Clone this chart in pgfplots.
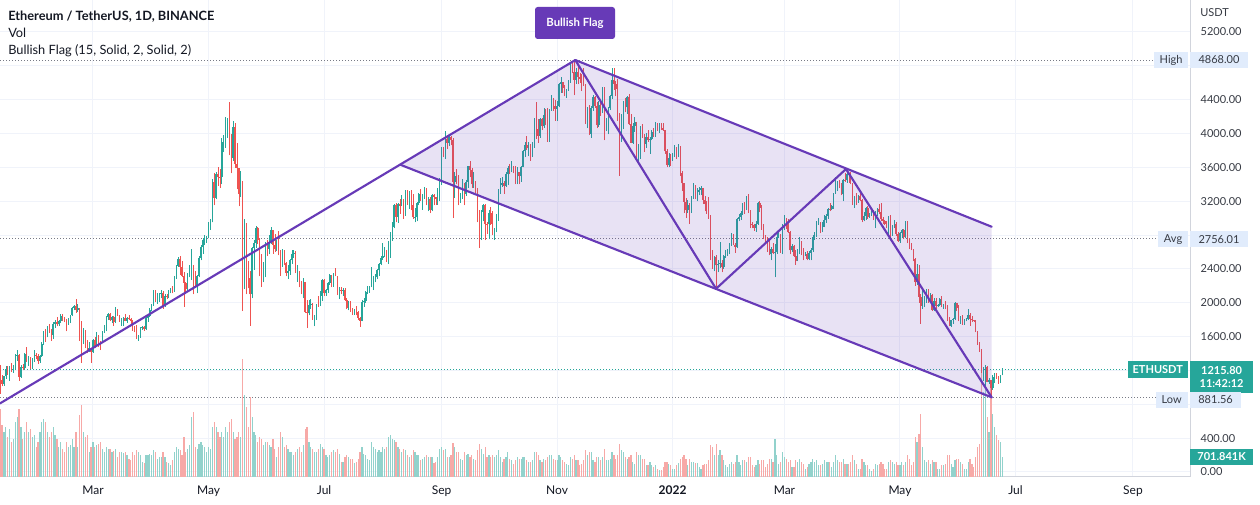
\documentclass[border=0pt]{standalone}
\usepackage{pgfplots}
\pgfplotsset{compat=1.18}
\usepackage{pgfplotstable}
\usepackage{fontspec}
\setmainfont{Lato}
\definecolor{up}{RGB}{38,166,154}
\definecolor{dn}{RGB}{239,83,80}
\definecolor{vup}{RGB}{146,210,204}
\definecolor{vdn}{RGB}{247,169,167}
\definecolor{flag}{RGB}{103,58,183}
\definecolor{lblue}{RGB}{225,236,252}
\definecolor{txt}{RGB}{19,23,34}
\definecolor{gridc}{RGB}{240,243,250}
\definecolor{axc}{RGB}{209,212,220}
\definecolor{dotc}{RGB}{120,123,134}
\pgfplotstableread{
d o h l c v
10 1262 1264 922 1090 68
11 1090 1150 1010 1044 52
12 1044 1135 1020 1130 45
13 1130 1250 1100 1218 50
14 1218 1250 1150 1171 40
15 1171 1255 1080 1233 48
16 1233 1290 1180 1228 35
17 1228 1260 1170 1257 38
18 1257 1390 1220 1377 55
19 1377 1440 1310 1383 60
20 1383 1390 1080 1121 68
21 1121 1260 1110 1236 50
22 1236 1270 1200 1231 38
23 1231 1410 1220 1390 45
24 1390 1476 1300 1324 55
25 1324 1370 1250 1357 45
26 1357 1360 1220 1253 48
27 1253 1348 1220 1332 40
28 1332 1440 1300 1382 42
29 1382 1400 1330 1376 30
30 1376 1390 1280 1314 35
31 1314 1380 1290 1369 45
32 1369 1540 1360 1515 55
33 1515 1670 1500 1660 58
34 1660 1690 1540 1594 55
35 1594 1730 1590 1718 45
36 1718 1750 1640 1677 40
37 1677 1690 1550 1614 45
38 1614 1770 1570 1746 50
39 1746 1790 1700 1768 42
40 1768 1830 1720 1744 38
41 1744 1790 1720 1783 30
42 1783 1870 1760 1843 35
43 1843 1870 1780 1814 28
44 1814 1830 1770 1805 25
45 1805 1810 1660 1779 35
46 1779 1820 1740 1781 30
47 1781 1860 1760 1849 32
48 1849 1950 1840 1938 38
49 1938 1970 1910 1960 30
50 1960 2042 1880 1919 45
51 1919 1990 1890 1935 30
52 1935 1939 1550 1781 62
53 1781 1781 1290 1570 72
54 1570 1705 1510 1626 45
55 1626 1680 1460 1475 40
56 1475 1560 1400 1446 42
57 1446 1530 1420 1459 25
58 1459 1470 1290 1416 30
59 1416 1570 1410 1564 35
60 1564 1600 1460 1492 30
61 1492 1650 1480 1575 32
62 1575 1620 1480 1541 33
63 1541 1550 1440 1533 35
64 1533 1670 1530 1654 28
65 1654 1735 1640 1723 25
66 1723 1840 1660 1835 30
67 1835 1875 1790 1868 28
68 1868 1880 1780 1799 28
69 1799 1840 1760 1826 25
70 1826 1840 1730 1772 26
71 1772 1945 1760 1924 28
72 1924 1930 1840 1854 20
73 1854 1860 1775 1791 25
74 1791 1820 1730 1806 25
75 1806 1830 1730 1823 24
76 1823 1870 1780 1782 25
77 1782 1830 1760 1814 22
78 1814 1850 1800 1812 18
79 1812 1820 1750 1783 17
80 1783 1800 1670 1680 25
81 1680 1720 1650 1669 22
82 1669 1740 1570 1582 27
83 1582 1620 1550 1588 25
84 1588 1710 1585 1700 22
85 1700 1730 1680 1715 15
86 1715 1720 1670 1689 14
87 1689 1840 1680 1817 22
88 1817 1860 1770 1846 22
89 1846 1940 1830 1919 23
90 1919 1990 1900 1977 22
91 1977 2150 1960 2143 27
92 2143 2145 2010 2027 25
93 2027 2110 1990 2093 18
94 2093 2120 2010 2108 20
95 2108 2150 2050 2116 20
96 2116 2135 1930 1966 25
97 1966 2100 1950 2084 20
98 2084 2100 2040 2070 15
99 2070 2150 2060 2136 14
100 2136 2170 2110 2157 12
101 2157 2200 2110 2139 17
102 2139 2320 2130 2299 25
103 2299 2450 2280 2432 30
104 2432 2545 2420 2514 28
105 2514 2550 2330 2422 27
106 2422 2490 2300 2316 22
107 2316 2360 1950 2235 40
108 2235 2250 2100 2162 25
109 2162 2350 2140 2332 28
110 2332 2450 2300 2357 32
111 2357 2640 2270 2398 60
112 2398 2440 2100 2364 65
113 2364 2370 2180 2211 30
114 2211 2330 2110 2316 28
115 2316 2550 2300 2534 33
116 2534 2680 2500 2662 35
117 2662 2760 2580 2746 32
118 2746 2800 2680 2756 30
119 2756 2790 2710 2773 25
120 2773 2950 2760 2945 30
121 2945 2990 2860 2950 28
122 2950 3460 2950 3431 50
123 3431 3530 3150 3240 55
124 3240 3540 3220 3524 50
125 3524 3600 3380 3490 45
126 3490 3580 3360 3484 40
127 3484 3950 3400 3902 45
128 3902 3980 3780 3928 40
129 3928 4200 3830 3952 50
130 3952 4180 3950 4168 45
131 4168 4372 3740 3785 55
132 3785 3990 3530 3715 58
133 3715 4147 3680 4079 45
134 4079 4125 3595 3640 38
135 3640 3890 3340 3587 40
136 3587 3590 3140 3282 45
137 3282 3560 3250 3377 40
138 3377 3440 1900 2439 118
139 2439 2990 2160 2773 82
140 2773 2940 2100 2430 70
141 2430 2490 2170 2295 50
142 2295 2380 1730 2100 80
143 2100 2660 2050 2643 60
144 2643 2740 2390 2706 45
145 2706 2910 2650 2888 42
146 2888 2890 2690 2736 35
147 2736 2760 2310 2419 40
148 2419 2570 2185 2279 38
149 2279 2480 2240 2385 32
150 2385 2715 2300 2707 35
151 2707 2740 2550 2633 35
152 2633 2800 2570 2707 32
153 2707 2891 2690 2855 30
154 2855 2860 2580 2688 38
155 2688 2810 2600 2630 28
156 2630 2740 2610 2715 20
157 2715 2845 2560 2590 30
158 2590 2620 2320 2517 45
159 2517 2640 2420 2609 40
160 2609 2620 2450 2472 30
161 2472 2480 2310 2353 32
162 2353 2450 2280 2372 28
163 2372 2520 2330 2508 25
164 2508 2620 2460 2576 25
165 2576 2620 2530 2589 22
166 2589 2610 2350 2367 25
167 2367 2440 2250 2370 28
168 2370 2380 2180 2232 30
169 2232 2260 2100 2178 25
170 2178 2290 2050 2245 32
171 2245 2250 1880 1889 48
172 1889 2030 1700 1875 50
173 1875 2030 1850 1972 35
174 1972 2040 1930 1990 30
175 1990 2000 1800 1811 28
176 1811 1860 1720 1829 25
177 1829 1990 1800 1980 25
178 1980 2080 1950 1970 28
179 1970 2140 1960 2084 33
180 2084 2280 2020 2274 30
181 2274 2280 2080 2110 28
182 2110 2160 2080 2151 22
183 2151 2240 2120 2228 20
184 2228 2340 2210 2322 22
185 2322 2330 2180 2200 25
186 2200 2350 2190 2323 27
187 2323 2410 2310 2316 25
188 2316 2320 2090 2117 28
189 2117 2190 2040 2149 23
190 2149 2190 2100 2139 15
191 2139 2170 2080 2156 15
192 2156 2170 2020 2036 20
193 2036 2050 1920 1941 22
194 1941 2020 1910 1996 20
195 1996 2020 1890 1917 18
196 1917 1940 1860 1877 18
197 1877 1920 1860 1899 14
198 1899 1960 1850 1895 15
199 1895 1900 1800 1820 18
200 1820 1830 1718 1787 25
201 1787 2030 1780 2004 30
202 2004 2050 1950 2025 23
203 2025 2140 2000 2124 22
204 2124 2200 2100 2188 18
205 2188 2200 2120 2191 17
206 2191 2420 2180 2231 35
207 2231 2320 2150 2298 30
208 2298 2340 2240 2299 28
209 2299 2400 2280 2383 25
210 2383 2470 2320 2461 27
211 2461 2550 2440 2532 25
212 2532 2700 2510 2556 30
213 2556 2660 2540 2608 28
214 2608 2620 2480 2506 30
215 2506 2730 2460 2725 40
216 2725 2840 2530 2827 42
217 2827 2950 2730 2890 38
218 2890 3170 2880 3157 37
219 3157 3180 2950 3013 35
220 3013 3180 2940 3163 30
221 3163 3230 3050 3142 28
222 3142 3270 3140 3164 25
223 3164 3230 2990 3049 28
224 3049 3330 3030 3322 27
225 3322 3332 3160 3266 22
226 3266 3320 3110 3310 20
227 3310 3330 3090 3150 22
228 3150 3290 2990 3011 27
229 3011 3120 2950 3018 25
230 3018 3190 2960 3182 22
231 3182 3300 3150 3286 22
232 3286 3340 3200 3226 17
233 3226 3280 3100 3242 18
234 3242 3370 3230 3324 20
235 3324 3360 3150 3173 22
236 3173 3250 3080 3225 20
237 3225 3250 3060 3101 20
238 3101 3280 3080 3271 20
239 3271 3290 3150 3244 14
240 3244 3250 3160 3223 15
241 3223 3350 3160 3225 20
242 3225 3470 3200 3433 28
243 3433 3840 3390 3834 30
244 3834 3840 3720 3788 27
245 3788 4027 3700 3939 28
246 3939 3970 3820 3886 20
247 3886 3980 3850 3953 20
248 3953 3970 3860 3927 22
249 3927 3950 3000 3430 34
250 3430 3550 3240 3498 30
251 3498 3580 3400 3426 25
252 3426 3510 3150 3211 25
253 3211 3300 3180 3267 18
254 3267 3460 3230 3407 17
255 3407 3420 3150 3286 25
256 3286 3450 3260 3428 22
257 3428 3620 3360 3613 23
258 3613 3680 3480 3569 20
259 3569 3590 3360 3398 22
260 3398 3540 3360 3433 18
261 3433 3440 3300 3332 17
262 3332 3350 2950 2977 27
263 2977 3100 2650 2749 33
264 2749 3100 2740 3077 28
265 3077 3170 2960 3155 23
266 3155 3170 2740 2931 30
267 2931 2950 2810 2926 20
268 2926 3100 2750 3063 22
269 3063 3130 2920 2934 20
270 2934 3080 2800 2807 22
271 2807 2880 2740 2850 20
272 2850 3050 2830 3001 22
273 3001 3340 2970 3307 27
274 3307 3470 3290 3390 20
275 3390 3490 3370 3418 15
276 3418 3440 3290 3382 18
277 3382 3550 3370 3517 20
278 3517 3620 3390 3587 25
279 3587 3640 3520 3561 18
280 3561 3670 3540 3575 17
281 3575 3620 3530 3545 13
282 3545 3610 3400 3416 17
283 3416 3600 3400 3541 20
284 3541 3550 3400 3494 18
285 3494 3620 3430 3606 18
286 3606 3810 3600 3788 20
287 3788 3900 3720 3866 20
288 3866 3970 3810 3829 17
289 3829 3900 3730 3846 15
290 3846 3880 3680 3747 15
291 3747 3900 3720 3878 17
292 3878 4180 3830 4154 25
293 4154 4375 3940 4057 25
294 4057 4170 3890 3971 22
295 3971 4180 3950 4170 17
296 4170 4180 4040 4085 15
297 4085 4300 4070 4219 18
298 4219 4290 4100 4132 17
299 4132 4300 3900 3925 20
300 3925 4295 3900 4285 22
301 4285 4460 4270 4414 22
302 4414 4420 4270 4325 18
303 4325 4400 4150 4289 17
304 4289 4380 4150 4324 17
305 4324 4600 4310 4589 22
306 4589 4670 4480 4605 20
307 4605 4610 4480 4535 17
308 4535 4570 4440 4477 15
309 4477 4530 4420 4518 13
310 4518 4630 4500 4611 12
311 4611 4825 4600 4807 20
312 4807 4840 4710 4730 18
313 4730 4868 4450 4633 22
314 4633 4780 4590 4721 17
315 4721 4800 4580 4669 17
316 4669 4710 4600 4648 12
317 4648 4700 4500 4627 13
318 4627 4770 4560 4573 17
319 4573 4580 4110 4204 27
320 4204 4310 4060 4290 22
321 4290 4340 3980 3998 25
322 3998 4330 3950 4299 25
323 4299 4460 4270 4431 17
324 4431 4440 4300 4322 15
325 4322 4370 4060 4097 20
326 4097 4380 4080 4342 20
327 4342 4370 4210 4271 17
328 4271 4550 4240 4524 20
329 4524 4550 3920 4047 28
330 4047 4180 4030 4098 17
331 4098 4310 3990 4297 17
332 4297 4460 4280 4447 18
333 4447 4770 4410 4633 25
334 4633 4778 4520 4590 22
335 4590 4620 4440 4521 18
336 4521 4640 4150 4232 22
337 4232 4240 3500 4122 33
338 4122 4230 3900 4197 27
339 4197 4380 4050 4359 25
340 4359 4420 4250 4310 20
341 4310 4440 4230 4435 18
342 4435 4470 4100 4111 20
343 4111 4230 3890 3893 22
344 3893 4120 3880 4084 15
345 4084 4190 4020 4138 13
346 4138 4140 3690 3787 25
347 3787 3880 3670 3861 22
348 3861 4090 3700 4019 22
349 4019 4110 3950 3964 18
350 3964 3990 3780 3879 18
351 3879 4000 3830 3960 12
352 3960 4040 3900 3925 12
353 3925 3960 3760 3940 15
354 3940 4040 3920 4018 12
355 4018 4060 3960 3981 10
356 3981 4140 3960 4108 12
357 4108 4130 4030 4047 8
358 4047 4120 4010 4095 7
359 4095 4120 4040 4062 7
360 4062 4130 4030 4036 10
361 4036 4040 3760 3793 15
362 3793 3820 3600 3626 15
363 3626 3770 3600 3713 13
364 3713 3760 3620 3682 12
365 3682 3770 3680 3769 8
366 3769 3860 3720 3829 8
367 3829 3840 3700 3761 12
368 3761 3880 3720 3794 14
369 3794 3850 3500 3537 18
370 3537 3560 3320 3411 20
371 3411 3420 3060 3195 22
372 3195 3240 3000 3092 18
373 3092 3210 3060 3158 12
374 3158 3180 2930 3083 18
375 3083 3260 3060 3239 15
376 3239 3410 3230 3372 15
377 3372 3390 3220 3250 14
378 3250 3350 3200 3308 14
379 3308 3370 3270 3331 10
380 3331 3380 3270 3356 8
381 3356 3360 3170 3213 12
382 3213 3260 3080 3165 13
383 3165 3200 3050 3096 13
384 3096 3250 2990 3002 17
385 3002 3040 2500 2566 32
386 2566 2620 2400 2405 30
387 2405 2550 2370 2539 22
388 2539 2560 2159 2442 33
389 2442 2500 2360 2457 22
390 2457 2720 2410 2469 27
391 2469 2510 2360 2425 22
392 2425 2560 2400 2547 17
393 2547 2620 2530 2600 12
394 2600 2640 2550 2603 10
395 2603 2700 2570 2686 13
396 2686 2820 2670 2793 15
397 2793 2810 2680 2686 13
398 2686 2710 2590 2664 15
399 2664 3000 2650 2992 22
400 2992 3050 2960 3013 15
401 3013 3080 2980 3056 12
402 3056 3180 3040 3142 17
403 3142 3190 3050 3119 17
404 3119 3260 3100 3240 15
405 3240 3280 3060 3077 20
406 3077 3090 2880 2928 20
407 2928 2950 2880 2916 12
408 2916 2930 2850 2883 10
409 2883 2960 2840 2934 12
410 2934 3190 2920 3179 17
411 3179 3200 3070 3125 13
412 3125 3160 2860 2887 17
413 2887 2930 2750 2784 17
414 2784 2800 2720 2764 10
415 2764 2780 2600 2626 13
416 2626 2750 2560 2572 18
417 2572 2660 2500 2640 18
418 2640 2710 2570 2589 15
419 2589 2690 2300 2596 38
420 2596 2830 2580 2778 22
421 2778 2860 2760 2780 13
422 2780 2810 2590 2619 15
423 2619 2930 2570 2921 25
424 2921 3040 2860 2972 20
425 2972 3000 2870 2951 18
426 2951 2990 2820 2833 15
427 2833 2850 2570 2619 17
428 2619 2690 2600 2665 10
429 2665 2680 2540 2554 10
430 2554 2620 2450 2495 17
431 2495 2640 2490 2576 15
432 2576 2780 2570 2728 18
433 2728 2730 2560 2607 15
434 2607 2650 2500 2556 13
435 2556 2600 2550 2573 8
436 2573 2610 2500 2519 10
437 2519 2610 2500 2591 13
438 2591 2650 2500 2619 15
439 2619 2800 2600 2772 18
440 2772 2840 2740 2814 15
441 2814 2960 2780 2944 17
442 2944 3000 2920 2945 12
443 2945 2950 2820 2861 12
444 2861 2950 2830 2897 13
445 2897 3040 2890 2972 17
446 2972 3050 2940 3030 15
447 3030 3120 2990 3109 15
448 3109 3180 3080 3107 15
449 3107 3150 3090 3143 10
450 3143 3300 3110 3297 15
451 3297 3480 3290 3329 22
452 3329 3440 3320 3401 17
453 3401 3450 3350 3385 15
454 3385 3420 3270 3281 15
455 3281 3460 3200 3449 18
456 3449 3530 3430 3445 13
457 3445 3580 3420 3522 13
458 3522 3530 3420 3521 13
459 3521 3550 3400 3412 15
460 3412 3420 3160 3171 22
461 3171 3260 3120 3234 17
462 3234 3300 3160 3191 13
463 3191 3270 3180 3261 8
464 3261 3310 3200 3210 8
465 3210 3220 2950 2982 18
466 2982 3070 2960 3030 15
467 3030 3130 2980 3118 12
468 3118 3140 2990 3018 12
469 3018 3060 3000 3042 8
470 3042 3080 3030 3059 6
471 3059 3090 2980 2991 8
472 2991 3080 2880 3057 13
473 3057 3120 3030 3104 12
474 3104 3170 3050 3077 13
475 3077 3180 2960 2985 15
476 2985 3010 2930 2964 13
477 2964 2980 2920 2934 8
478 2934 2960 2880 2921 8
479 2921 3020 2800 3007 15
480 3007 3040 2780 2808 17
481 2808 2920 2790 2889 15
482 2889 2980 2880 2936 13
483 2936 2950 2790 2817 15
484 2817 2840 2720 2729 12
485 2729 2840 2710 2823 12
486 2823 2870 2770 2857 15
487 2857 2870 2750 2782 12
488 2782 2960 2760 2940 15
489 2940 2960 2700 2748 22
490 2748 2760 2630 2693 18
491 2693 2700 2620 2636 12
492 2636 2640 2490 2518 15
493 2518 2530 2200 2244 40
494 2244 2460 2210 2342 35
495 2342 2450 2000 2072 43
496 2072 2100 1750 1961 63
497 1961 2150 1930 2014 30
498 2014 2080 1950 2055 17
499 2055 2160 2000 2145 15
500 2145 2160 2000 2023 17
501 2023 2110 2000 2090 13
502 2090 2100 1900 1914 17
503 1914 2050 1900 2018 15
504 2018 2060 1920 1960 15
505 1960 1990 1950 1974 8
506 1974 2050 1960 2043 8
507 2043 2080 1950 1972 12
508 1972 1990 1930 1978 12
509 1978 2020 1920 1944 13
510 1944 1970 1780 1804 22
511 1804 1830 1720 1725 22
512 1725 1800 1710 1793 13
513 1793 1820 1750 1812 10
514 1812 2010 1800 1997 17
515 1997 2000 1900 1942 18
516 1942 1970 1780 1818 18
517 1818 1840 1750 1834 15
518 1834 1850 1740 1776 13
519 1776 1810 1740 1802 8
520 1802 1820 1780 1806 8
521 1806 1920 1800 1859 15
522 1859 1880 1730 1812 18
523 1812 1840 1770 1793 13
524 1793 1800 1770 1789 10
525 1789 1790 1650 1664 20
526 1664 1670 1500 1529 30
527 1529 1540 1420 1435 33
528 1435 1450 1170 1207 115
529 1207 1240 1080 1209 85
530 1209 1260 1010 1236 100
531 1236 1250 1060 1067 60
532 1067 1110 1040 1087 45
533 1087 1090 881 993 90
534 993 1150 970 1127 63
535 1127 1170 1050 1127 50
536 1127 1170 1100 1125 42
537 1125 1130 1040 1053 37
538 1053 1150 1050 1143 35
539 1143 1230 1140 1216 20
}\eth
\begin{document}
\begin{tikzpicture}
\useasboundingbox (0,0) rectangle (945pt,-378.75pt);
\begin{axis}[
 at={(0pt,-357.75pt)}, anchor=south west,
 scale only axis, width=892.5pt, height=357.75pt,
 xmin=9.92, xmax=638.1, ymin=-60, ymax=5578,
 clip mode=individual,
 axis x line*=bottom, axis y line*=right,
 axis line style={draw=axc, line width=0.75pt, -},
 major tick length=0pt,
 xtick={59,120,181,243,304,365,424,485,546,608},
 xticklabels={Mar,May,Jul,Sep,Nov,\textbf{2022},Mar,May,Jul,Sep},
 ytick={0,400,...,5200},
 yticklabels={0.00,400.00,,,1600.00,2000.00,2400.00,,3200.00,3600.00,4000.00,4400.00,,5200.00},
 grid=major, major grid style={draw=gridc, line width=0.75pt},
 xticklabel style={font=\fontsize{9}{10}\selectfont, text=txt, anchor=base, yshift=-13.5pt},
 yticklabel style={font=\fontsize{8.25}{9}\selectfont, text=txt!85, anchor=west, xshift=4.5pt},
 candle/.style={draw=none, mark=none, error bars/y dir=plus, error bars/y explicit, error bars/error mark=none},
 upf/.style={restrict expr to domain={\thisrow{c}-\thisrow{o}}{0:100000}},
 dnf/.style={restrict expr to domain={\thisrow{o}-\thisrow{c}}{0.001:100000}},
]
% volume
\addplot[candle, upf, error bars/error bar style={draw=vup, line width=0.9pt}]
  table[x=d, y expr={-60}, y error plus expr={\thisrow{v}*11.82}] {\eth};
\addplot[candle, dnf, error bars/error bar style={draw=vdn, line width=0.9pt}]
  table[x=d, y expr={-60}, y error plus expr={\thisrow{v}*11.82}] {\eth};
% dotted level lines
\addplot[draw=dotc, line width=0.75pt, dash pattern=on 0.75pt off 1.5pt] coordinates {(9.92,4868) (619.6,4868)};
\addplot[draw=dotc, line width=0.75pt, dash pattern=on 0.75pt off 1.5pt] coordinates {(9.92,2756.01) (622.3,2756.01)};
\addplot[draw=dotc, line width=0.75pt, dash pattern=on 0.75pt off 1.5pt] coordinates {(9.92,881.56) (620.2,881.56)};
\addplot[draw=up, line width=0.75pt, dash pattern=on 0.75pt off 1.5pt] coordinates {(9.92,1215.8) (604.8,1215.8)};
% wicks
\addplot[candle, upf, error bars/error bar style={draw=up, line width=0.5pt}]
  table[x=d, y=l, y error plus expr={\thisrow{h}-\thisrow{l}}] {\eth};
\addplot[candle, dnf, error bars/error bar style={draw=dn, line width=0.5pt}]
  table[x=d, y=l, y error plus expr={\thisrow{h}-\thisrow{l}}] {\eth};
% bodies
\addplot[candle, upf, error bars/error bar style={draw=up, line width=1.1pt}]
  table[x=d, y=o, y error plus expr={\thisrow{c}-\thisrow{o}}] {\eth};
\addplot[candle, dnf, error bars/error bar style={draw=dn, line width=1.1pt}]
  table[x=d, y=c, y error plus expr={\thisrow{o}-\thisrow{c}}] {\eth};
% flag fill
\addplot[fill=flag, fill opacity=0.15, draw=none] coordinates {(221.1,3632) (313.6,4868) (533.4,2898) (533.4,881.56)} -- cycle;
% flag lines
\addplot[draw=flag, line width=1.6pt, line cap=round] coordinates {(9.92,810) (313.6,4868)};
\addplot[draw=flag, line width=1.6pt, line cap=round] coordinates {(221.1,3632) (533.4,881.56)};
\addplot[draw=flag, line width=1.6pt, line cap=round] coordinates {(313.6,4868) (533.4,2898)};
\addplot[draw=flag, line width=1.6pt, line cap=round, line join=round] coordinates {(313.6,4868) (387.9,2165) (456.5,3580) (533.4,881.56)};
\end{axis}
\begin{scope}[x=0.75pt,y=-0.75pt]
\node[anchor=base west, font=\fontsize{9.6}{11}\selectfont\bfseries, text=txt, inner sep=0pt] at (8,21) {Ethereum / TetherUS, 1D, BINANCE};
\node[anchor=base west, font=\fontsize{9.6}{11}\selectfont, text=txt, inner sep=0pt] at (8,38) {Vol};
\node[anchor=base west, font=\fontsize{9.6}{11}\selectfont, text=txt, inner sep=0pt] at (8,55) {Bullish Flag (15, Solid, 2, Solid, 2)};
\node[fill=flag, rounded corners=2pt, text=white, font=\fontsize{8.5}{10}\selectfont\bfseries, minimum width=60pt, minimum height=24pt, inner sep=0pt] at (575,23) {Bullish Flag};
\node[anchor=west, font=\fontsize{8.25}{9}\selectfont, text=txt!85, inner sep=0pt] at (1200,13) {USDT};
% High
\node[fill=lblue, anchor=east, text=txt!85, font=\fontsize{8.25}{9}\selectfont, minimum height=12pt, minimum width=25pt, inner sep=0pt] at (1188,60) {High};
\node[fill=lblue, anchor=west, text=txt!85, font=\fontsize{8.25}{9}\selectfont, minimum height=12pt, minimum width=43pt, inner sep=0pt] at (1190,60) {4868.00};
% Avg
\node[fill=lblue, anchor=east, text=txt!85, font=\fontsize{8.25}{9}\selectfont, minimum height=12pt, minimum width=22pt, inner sep=0pt] at (1188,239.5) {Avg};
\node[fill=lblue, anchor=west, text=txt!85, font=\fontsize{8.25}{9}\selectfont, minimum height=12pt, minimum width=43pt, inner sep=0pt] at (1190,239.5) {2756.01};
% ETHUSDT
\node[fill=up, anchor=east, text=white, font=\fontsize{8.25}{9}\selectfont\bfseries, minimum height=12.5pt, minimum width=45pt, inner sep=0pt] at (1188,369.5) {ETHUSDT};
\node[fill=up, anchor=north west, text=white, font=\fontsize{8.25}{10}\selectfont\bfseries, minimum height=23.5pt, minimum width=47pt, inner sep=0pt, align=center] at (1190,361) {1215.80\\11:42:12};
% Low
\node[fill=lblue, anchor=east, text=txt!85, font=\fontsize{8.25}{9}\selectfont, minimum height=12pt, minimum width=24pt, inner sep=0pt] at (1188,400) {Low};
\node[fill=lblue, anchor=west, text=txt!85, font=\fontsize{8.25}{9}\selectfont, minimum height=12pt, minimum width=38pt, inner sep=0pt] at (1190,400) {881.56};
% volume label
\node[fill=up, anchor=west, text=white, font=\fontsize{8.25}{9}\selectfont\bfseries, minimum height=12pt, minimum width=47pt, inner sep=0pt] at (1190,457) {701.841K};
\end{scope}
\end{tikzpicture}
\end{document}
